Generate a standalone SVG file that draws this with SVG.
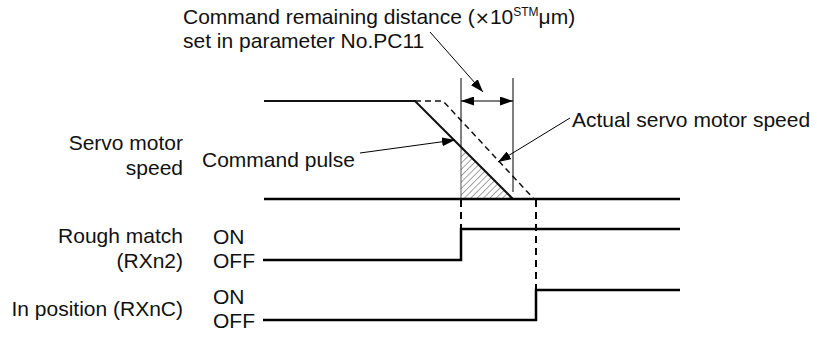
<svg xmlns="http://www.w3.org/2000/svg" width="817" height="338" viewBox="0 0 817 338">
<style>
text{font-family:"Liberation Sans",Arial,sans-serif;font-size:21px;fill:#111}
.r{text-anchor:end}
.sig{fill:none;stroke:#000;stroke-width:2.5}
.thin{fill:none;stroke:#000;stroke-width:1}
.dash{fill:none;stroke:#000;stroke-width:2;stroke-dasharray:7 5}
.ldr{fill:none;stroke:#000;stroke-width:1;marker-end:url(#ah)}
</style>
<defs>
<marker id="ah" viewBox="0 0 13 9" refX="13" refY="4.5" markerWidth="13" markerHeight="9" markerUnits="userSpaceOnUse" orient="auto">
<path d="M0,0 L13,4.5 L0,9 Z" fill="#000"/>
</marker>
<marker id="ahs" viewBox="0 0 13 9" refX="0" refY="4.5" markerWidth="13" markerHeight="9" markerUnits="userSpaceOnUse" orient="auto">
<path d="M13,0 L0,4.5 L13,9 Z" fill="#000"/>
</marker>
<pattern id="hatch" patternUnits="userSpaceOnUse" width="4.5" height="4.5" patternTransform="rotate(45)">
<line x1="0" y1="0" x2="0" y2="4.5" stroke="#333" stroke-width="0.9"/>
</pattern>
</defs>

<g id="labels">
<text x="183" y="24">Command remaining distance (<tspan font-family="'DejaVu Sans',sans-serif" font-size="18">×</tspan>10<tspan font-size="12" dy="-8">STM</tspan><tspan dy="8">μm)</tspan></text>
<text x="183" y="48">set in parameter No.PC11</text>
<text class="r" x="183" y="150">Servo motor</text>
<text class="r" x="183" y="175">speed</text>
<text x="202" y="167">Command pulse</text>
<text x="572" y="127">Actual servo motor speed</text>
<text class="r" x="183" y="243">Rough match</text>
<text class="r" x="183" y="268">(RXn2)</text>
<text class="r" x="183" y="316">In position (RXnC)</text>
<text x="213" y="244">ON</text>
<text x="213" y="268">OFF</text>
<text x="213" y="304">ON</text>
<text x="213" y="328">OFF</text>
</g>

<g id="speed">
<polygon points="461,147 461,199 513,199" fill="url(#hatch)" stroke="#555" stroke-width="1"/>
<path d="M264,101 H415 L513,199" fill="none" stroke="#111" stroke-width="2"/>
<path d="M415,101 H443 L534,199" fill="none" stroke="#111" stroke-width="1.5" stroke-dasharray="6 4"/>
<line class="sig" x1="264" y1="199" x2="680" y2="199"/>
</g>

<g id="rough-match">
<path class="sig" d="M263,260 H461 V229 H680"/>
</g>

<g id="in-position">
<path class="sig" d="M263,320 H536 V290 H680"/>
</g>

<g id="connectors">
<line class="thin" x1="461" y1="78" x2="461" y2="147"/>
<line class="thin" x1="513" y1="78" x2="513" y2="192"/>
<line class="thin" x1="461" y1="101" x2="513" y2="101" marker-start="url(#ahs)" marker-end="url(#ah)"/>
<line class="ldr" x1="430" y1="32" x2="483" y2="92"/>
<line class="ldr" x1="360" y1="153" x2="455" y2="140"/>
<line class="ldr" x1="570" y1="118" x2="498" y2="162"/>
<line class="dash" x1="461" y1="200" x2="461" y2="229"/>
<line class="dash" x1="536" y1="200" x2="536" y2="290"/>
</g>
</svg>
